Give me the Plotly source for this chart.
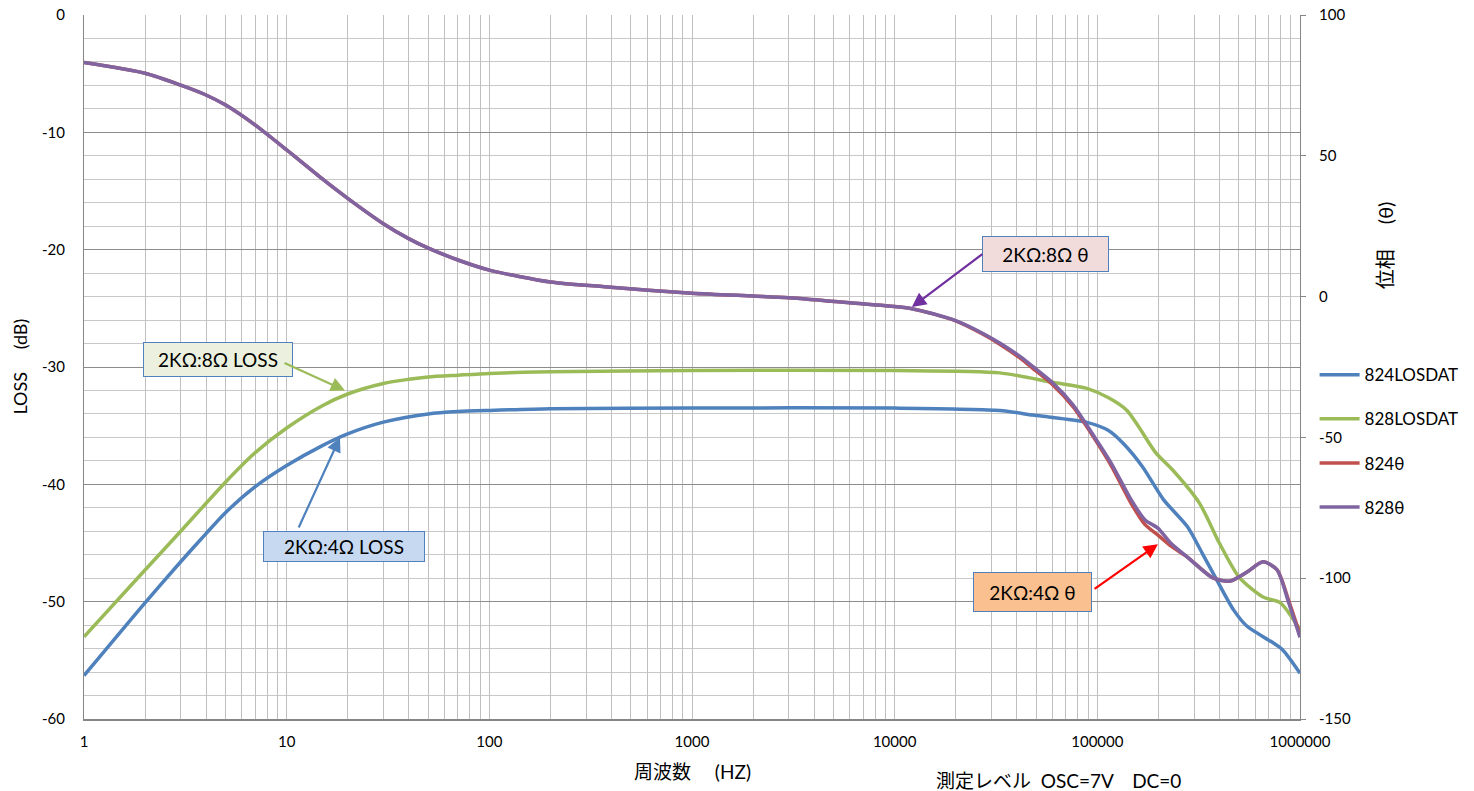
import plotly.graph_objects as go

# ---------------- data ----------------
freq_824_loss = [1, 2, 3, 4, 5, 7, 10, 15, 20, 30, 50, 70, 100, 200, 1000, 10000, 33000, 48000, 60000,
                 88000, 113000, 134000, 167000, 212000, 278000, 330000, 390000, 470000, 548000,
                 720000, 820000, 1000000]
loss_824 = [-56.3, -50.1, -46.6, -44.2, -42.4, -40.2, -38.4, -36.7, -35.7, -34.7, -34.0, -33.8, -33.7,
            -33.55, -33.5, -33.5, -33.7, -34.1, -34.3, -34.7, -35.4, -36.5, -38.5, -41.3, -43.6,
            -45.9, -48.2, -50.7, -52.1, -53.4, -54.1, -56.1]

freq_828_loss = [1, 2, 3, 5, 7, 10, 15, 20, 30, 40, 50, 70, 100, 200, 1000, 10000, 33000, 60000, 88000,
                 113000, 140000, 160000, 194000, 236000, 319000, 400000, 500000, 657000, 800000, 1000000]
loss_828 = [-53.0, -47.3, -44.0, -39.8, -37.3, -35.2, -33.3, -32.3, -31.4, -31.05, -30.85, -30.7,
            -30.55, -30.4, -30.3, -30.3, -30.5, -31.3, -31.8, -32.6, -33.7, -35.1, -37.3, -38.8,
            -41.6, -45.0, -47.9, -49.6, -50.1, -52.4]

freq_phase = [1, 2, 3, 4, 5, 7, 10, 15, 20, 30, 40, 50, 70, 100, 200, 370, 1000, 2000, 3000, 6000,
              12000, 20000, 27000, 33000, 43000, 48000, 60000, 76000, 94000, 117000, 147000, 172000,
              199000, 230000, 278000, 372000, 452000, 548000, 657000, 770000, 880000, 1000000]
phase_824 = [83.1, 79.3, 75.1, 71.6, 68.0, 60.9, 52.1, 41.8, 34.9, 25.9, 20.6, 17.2, 13.0, 9.4, 5.2,
             3.5, 1.2, 0.2, -0.4, -2.2, -4.2, -8.6, -13.2, -16.9, -22.6, -25.5, -31.2, -39.2, -49.0,
             -60.0, -73.5, -81.0, -84.7, -88.5, -92.5, -99.9, -101.0, -97.8, -94.2, -97.0, -108.0,
             -120.0]
phase_828 = [83.1, 79.3, 75.1, 71.6, 68.0, 60.9, 52.1, 41.8, 34.9, 25.9, 20.6, 17.2, 13.0, 9.4, 5.2,
             3.5, 1.2, 0.2, -0.4, -2.2, -4.2, -8.5, -12.9, -16.5, -22.0, -24.8, -30.5, -38.5, -48.4,
             -59.1, -72.2, -79.3, -82.2, -87.5, -92.5, -99.9, -101.0, -97.8, -94.2, -97.0, -108.8,
             -121.0]

x_tick_decades = [1, 10, 100, 1000, 10000, 100000, 1000000]
x_tick_labels = ["1", "10", "100", "1000", "10000", "100000", "1000000"]
y_ticks = [0, -10, -20, -30, -40, -50, -60]
y_tick_labels = ["0", "-10", "-20", "-30", "-40", "-50", "-60"]
y2_ticks = [100, 50, 0, -50, -100, -150]
y2_tick_labels = ["100", "50", "0", "-50", "-100", "-150"]

BLUE = "#4F81BD"
GREEN = "#9BBB59"
RED = "#C0504D"
PURPLE = "#8064A2"
FONT = "Lato, 'Noto Sans CJK JP', sans-serif"

fig = go.Figure()
fig.add_trace(go.Scatter(x=freq_824_loss, y=loss_824, name="824LOSDAT", mode="lines",
                         line=dict(color=BLUE, width=3.5, shape="spline", smoothing=0.7),
                         legendgroup="a"))
fig.add_trace(go.Scatter(x=freq_828_loss, y=loss_828, name="828LOSDAT", mode="lines",
                         line=dict(color=GREEN, width=3.5, shape="spline", smoothing=0.7),
                         legendgroup="b"))
fig.add_trace(go.Scatter(x=freq_phase, y=phase_824, name="824θ", mode="lines", yaxis="y2",
                         line=dict(color=RED, width=3.5, shape="spline", smoothing=0.7),
                         legendgroup="c"))
fig.add_trace(go.Scatter(x=freq_phase, y=phase_828, name="828θ", mode="lines", yaxis="y2",
                         line=dict(color=PURPLE, width=3.5, shape="spline", smoothing=0.7),
                         legendgroup="d"))

# all log grid positions
grid_vals = []
grid_text = []
for i, d in enumerate(x_tick_decades):
    for m in range(1, 10):
        v = d * m
        if v > 1000000:
            break
        grid_vals.append(v)
        grid_text.append(x_tick_labels[i] if m == 1 else "")

fig.update_layout(
    width=1474, height=791,
    margin=dict(l=84, r=174, t=15, b=72, autoexpand=False),
    paper_bgcolor="white", plot_bgcolor="white",
    font=dict(family=FONT, size=14, color="#000000"),
    showlegend=True,
    legend=dict(x=1.012, y=0.514, xanchor="left", yanchor="top", tracegroupgap=19,
                font=dict(size=17), itemwidth=40, bgcolor="rgba(0,0,0,0)"),
    xaxis=dict(type="log", range=[0, 6], tickmode="array", tickvals=grid_vals, ticktext=grid_text,
               showgrid=True, gridcolor="#BFBFBF", gridwidth=1, showline=True, linecolor="#868686",
               linewidth=1.5, ticks="", tickfont=dict(size=15), zeroline=False, automargin=False,
               ticklabelstandoff=8),
    yaxis=dict(range=[-60, 0], tickmode="array", tickvals=y_ticks, ticktext=y_tick_labels,
               showgrid=True, gridcolor="#8C8C8C", gridwidth=1,
               minor=dict(dtick=2, showgrid=True, gridcolor="#C8C8C8", gridwidth=1),
               showline=True, linecolor="#868686", linewidth=1, ticks="", zeroline=False,
               tickfont=dict(size=15), ticklabelstandoff=15, automargin=False),
    yaxis2=dict(range=[-150, 100], tickmode="array", tickvals=y2_ticks, ticktext=y2_tick_labels,
                overlaying="y", side="right", showgrid=False,
                showline=True, linecolor="#868686", linewidth=1, ticks="outside", ticklen=5,
                tickcolor="#868686", zeroline=False, tickfont=dict(size=15), automargin=False,
                ticklabelstandoff=10),
)

# axis titles and notes
fig.add_annotation(text="LOSS　 (dB)", xref="paper", yref="paper", x=-0.053, y=0.50,
                   xanchor="center", yanchor="middle",
                   showarrow=False, textangle=-90, font=dict(size=18))
fig.add_annotation(text="位相　 (θ)", xref="paper", yref="paper", x=1.07, y=0.673,
                   xanchor="center", yanchor="middle",
                   showarrow=False, textangle=-90, font=dict(size=20))
fig.add_annotation(text="周波数　 (HZ)", xref="paper", yref="paper", x=0.5, y=-0.075,
                   xanchor="center", yanchor="middle", showarrow=False, font=dict(size=19))
fig.add_annotation(text="測定レベル  OSC=7V　DC=0", xref="paper", yref="paper", x=0.801, y=-0.087,
                   xanchor="center", yanchor="middle", showarrow=False, font=dict(size=19))

# callout boxes
boxes = [
    ("2KΩ:8Ω θ", 4.742, 15.1, "y2", 127, 36, "#F2DCDB"),
    ("2KΩ:8Ω LOSS", 0.661, -29.4, "y", 150, 35, "#EBF1DE"),
    ("2KΩ:4Ω LOSS", 1.283, -45.3, "y", 162, 31, "#C6D9F1"),
    ("2KΩ:4Ω θ", 4.678, -49.2, "y", 119, 40, "#FAC090"),
]
for txt, bx, by, yr, w, h, fill in boxes:
    fig.add_annotation(text=txt, x=bx, y=by, xref="x", yref=yr, showarrow=False,
                       xanchor="center", yanchor="middle",
                       width=w - 2, height=h - 2, bgcolor=fill, bordercolor=BLUE, borderwidth=1,
                       borderpad=0, font=dict(size=19), align="center", valign="middle")

arrows = [
    (4.44, 15.5, 4.085, -3.7, "y2", "#7030A0"),
    (0.982, -29.6, 1.288, -32.0, "y", GREEN),
    (1.056, -43.8, 1.263, -36.0, "y", BLUE),
    (4.979, -49.0, 5.299, -45.1, "y", "#FF0000"),
]
for ax, ay, tx, ty, yr, col in arrows:
    fig.add_annotation(text="", x=tx, y=ty, xref="x", yref=yr, ax=ax, ay=ay, axref="x", ayref=yr,
                       showarrow=True, arrowhead=2, arrowsize=1.3, arrowwidth=2.2, arrowcolor=col)

fig.write_html("out.html", config={"displayModeBar": False},
               post_script="document.body.style.margin='0';document.body.style.overflow='hidden';")
